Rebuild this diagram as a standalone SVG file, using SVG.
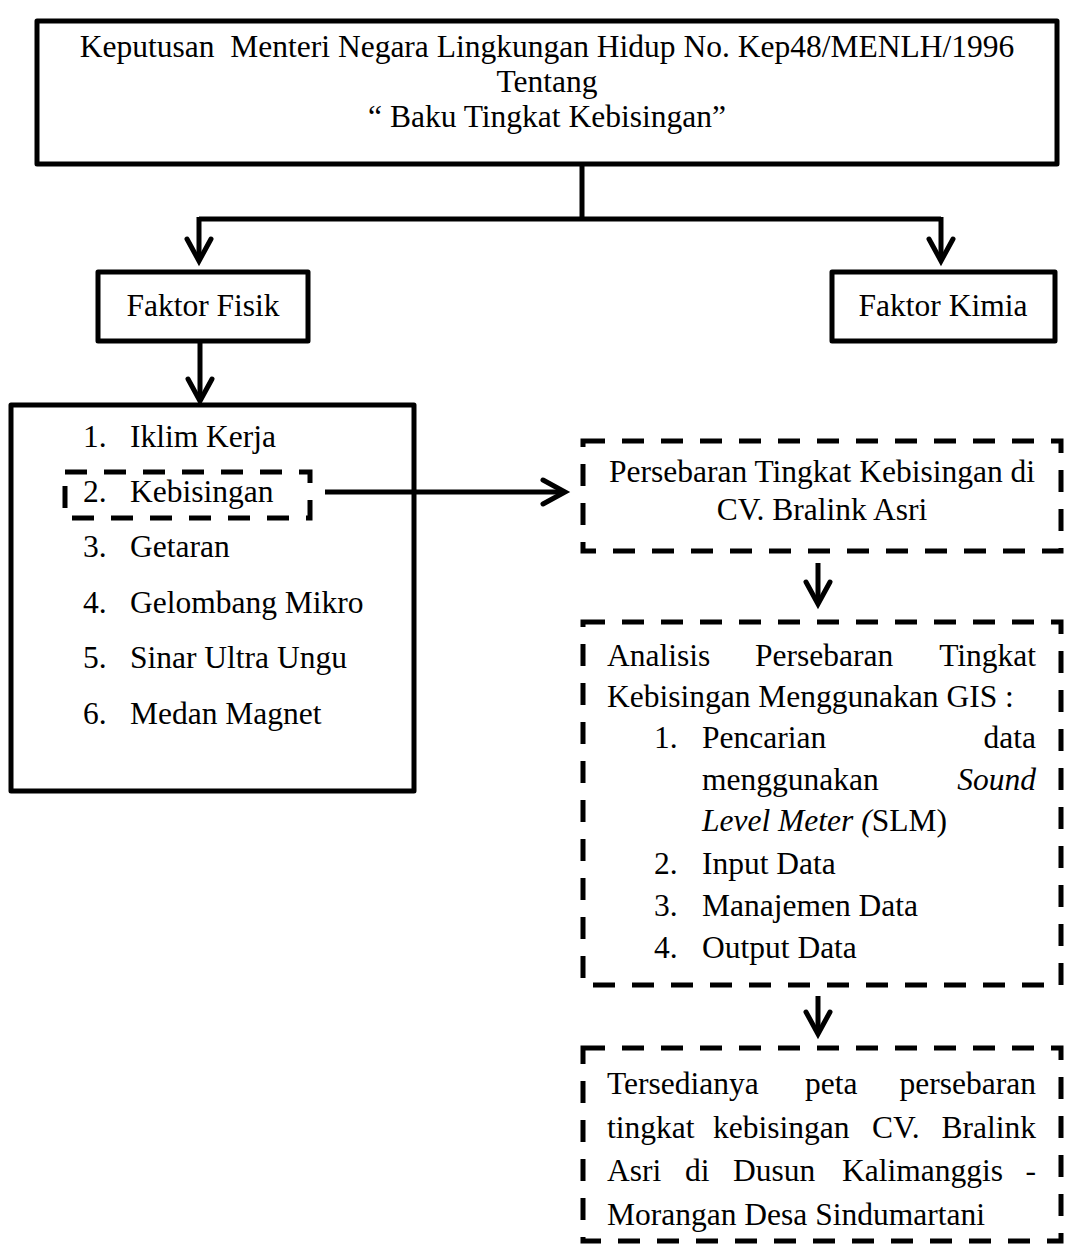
<svg xmlns="http://www.w3.org/2000/svg" width="1067" height="1245" viewBox="0 0 1067 1245">
<style>
  text { font-family: "Liberation Serif", "Times New Roman", serif; font-size: 31.5px; fill: #000; white-space: pre; }
  .mid { text-anchor: middle; }
  .end { text-anchor: end; }
  .it { font-style: italic; }
  .solid { fill: none; stroke: #000; stroke-width: 5; stroke-linejoin: round; }
  .dash { fill: none; stroke: #000; stroke-width: 5; stroke-dasharray: 22 17; }
  .conn { fill: none; stroke: #000; stroke-width: 5; }
</style>
<defs>
  <marker id="chev" markerUnits="userSpaceOnUse" viewBox="-30 -16 34 32" refX="0" refY="0" markerWidth="34" markerHeight="32" orient="auto" overflow="visible">
    <path d="M-22,-12 L0,0 L-22,12" fill="none" stroke="#000" stroke-width="5" stroke-linecap="round" stroke-linejoin="miter"/>
  </marker>
</defs>
<rect width="1067" height="1245" fill="#fff"/>

<g id="node-keputusan">
  <rect class="solid" x="37" y="21" width="1020" height="143"/>
  <text class="mid" x="547" y="57">Keputusan  Menteri Negara Lingkungan Hidup No. Kep48/MENLH/1996</text>
  <text class="mid" x="547" y="92">Tentang</text>
  <text class="mid" x="547" y="127">“ Baku Tingkat Kebisingan”</text>
</g>

<g id="node-fisik">
  <rect class="solid" x="98" y="272" width="210" height="69"/>
  <text class="mid" x="203" y="316">Faktor Fisik</text>
</g>

<g id="node-kimia">
  <rect class="solid" x="832" y="272" width="223" height="69"/>
  <text class="mid" x="943" y="316">Faktor Kimia</text>
</g>

<g id="node-list">
  <rect class="solid" x="11" y="405" width="403" height="386"/>
  <text x="83" y="447">1.</text><text x="130" y="447">Iklim Kerja</text>
  <text x="83" y="502">2.</text><text x="130" y="502">Kebisingan</text>
  <text x="83" y="557">3.</text><text x="130" y="557">Getaran</text>
  <text x="83" y="613">4.</text><text x="130" y="613">Gelombang Mikro</text>
  <text x="83" y="668">5.</text><text x="130" y="668">Sinar Ultra Ungu</text>
  <text x="83" y="724">6.</text><text x="130" y="724">Medan Magnet</text>
</g>

<g id="node-kebisingan">
  <rect class="dash" x="65" y="472" width="245" height="46"/>
</g>

<g id="node-persebaran">
  <rect class="dash" x="583" y="441" width="478" height="110"/>
  <text class="mid" x="822" y="482">Persebaran Tingkat Kebisingan di</text>
  <text class="mid" x="822" y="520">CV. Bralink Asri</text>
</g>

<g id="node-analisis">
  <rect class="dash" x="583" y="622" width="478" height="363"/>
  <text x="607" y="666">Analisis</text><text x="755" y="666">Persebaran</text><text class="end" x="1036" y="666">Tingkat</text>
  <text x="607" y="707">Kebisingan Menggunakan GIS :</text>
  <text x="654" y="748">1.</text><text x="702" y="748">Pencarian</text><text class="end" x="1036" y="748">data</text>
  <text x="702" y="790">menggunakan</text><text class="end it" x="1036" y="790">Sound</text>
  <text x="702" y="831"><tspan class="it">Level Meter (</tspan>SLM)</text>
  <text x="654" y="874">2.</text><text x="702" y="874">Input Data</text>
  <text x="654" y="916">3.</text><text x="702" y="916">Manajemen Data</text>
  <text x="654" y="958">4.</text><text x="702" y="958">Output Data</text>
</g>

<g id="node-tersedia">
  <rect class="dash" x="583" y="1048" width="478" height="193"/>
  <text x="607" y="1094">Tersedianya</text><text x="805" y="1094">peta</text><text class="end" x="1036" y="1094">persebaran</text>
  <text x="607" y="1138">tingkat</text><text x="713" y="1138">kebisingan</text><text x="872" y="1138">CV.</text><text class="end" x="1036" y="1138">Bralink</text>
  <text x="607" y="1181">Asri</text><text x="685" y="1181">di</text><text x="733" y="1181">Dusun</text><text x="842" y="1181">Kalimanggis</text><text class="end" x="1036" y="1181">-</text>
  <text x="607" y="1225">Morangan Desa Sindumartani</text>
</g>

<g id="connectors">
  <path class="conn" d="M582,164 V219 M199,219 H941"/>
  <path class="conn" d="M199,217 V261" marker-end="url(#chev)"/>
  <path class="conn" d="M941,217 V261" marker-end="url(#chev)"/>
  <path class="conn" d="M200,341 V401" marker-end="url(#chev)"/>
  <path class="conn" d="M325,492 H565" marker-end="url(#chev)"/>
  <path class="conn" d="M818,563 V604" marker-end="url(#chev)"/>
  <path class="conn" d="M818,996 V1034" marker-end="url(#chev)"/>
</g>
</svg>
